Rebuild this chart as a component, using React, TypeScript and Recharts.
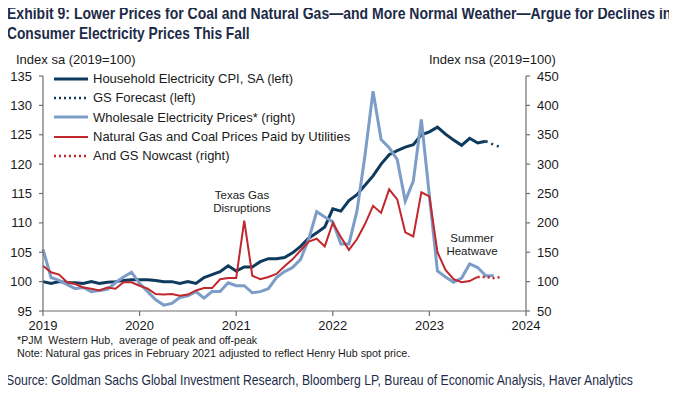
import React, { useLayoutEffect, useRef, useState } from 'react';
import { ComposedChart, Line, XAxis, YAxis } from 'recharts';

// ---------- data (monthly, starting Jan 2019) ----------
const startYear = 2019;
const yearTicks = [2019, 2020, 2021, 2022, 2023, 2024];
const leftTicks = [95, 100, 105, 110, 115, 120, 125, 130, 135];
const rightTicks = [50, 100, 150, 200, 250, 300, 350, 400, 450];

// Household Electricity CPI, SA (left) — Jan 2019 .. Aug 2023
const cpiSA = [
  100.0, 99.7, 100.0, 99.8, 99.8, 99.7, 100.0, 99.7, 99.9, 100.0, 100.2, 100.3,
  100.3, 100.3, 100.2, 100.0, 100.0, 99.7, 100.0, 99.7, 100.7, 101.2, 101.7, 102.7,
  101.8, 102.5, 102.5, 103.4, 103.9, 103.9, 104.1, 104.9, 106.0, 107.4, 108.3, 109.3,
  112.4, 112.0, 113.8, 114.8, 116.4, 118.0, 120.0, 121.6, 122.3, 122.9, 123.3, 125.0,
  125.5, 126.3, 125.1, 124.1, 123.2, 124.4, 123.6, 123.9,
];
// GS Forecast (left) — Aug 2023 .. Oct 2023
const forecastStart = 55;
const gsForecast = [123.9, 123.3, 122.8];

// Wholesale Electricity Prices* (right) — Jan 2019 .. Sep 2023
const wholesale = [
  155, 107, 102, 95, 88, 90, 83, 85, 87, 98, 108, 116,
  97, 83, 69, 60, 63, 73, 76, 83, 72, 83, 83, 98,
  93, 93, 81, 83, 88, 107, 117, 124, 138, 172, 219, 210,
  202, 164, 164, 220, 315, 424, 342, 328, 308, 237, 271, 376,
  246, 118, 108, 99, 106, 130, 124, 110, 110,
];

// Natural Gas and Coal Prices Paid by Utilities (right) — Jan 2019 .. Jul 2023
const gasCoal = [
  127, 116, 112, 99, 96, 90, 88, 85, 90, 88, 99, 99,
  93, 88, 79, 78, 79, 76, 78, 85, 89, 89, 104, 106,
  106, 204, 110, 104, 108, 113, 126, 138, 153, 168, 173, 160,
  200, 176, 154, 172, 198, 229, 217, 257, 240, 184, 177, 252,
  245, 150, 120, 104, 99, 101, 108,
];
// And GS Nowcast (right) — Jul 2023 .. Oct 2023
const nowcastStart = 54;
const gsNowcast = [108, 108, 106, 108];

const monthCount = 58;

const data = Array.from({ length: monthCount }, (_, i) => ({
  t: startYear + i / 12,
  cpi: i < cpiSA.length ? cpiSA[i] : null,
  fc: i >= forecastStart && i - forecastStart < gsForecast.length ? gsForecast[i - forecastStart] : null,
  ws: i < wholesale.length ? wholesale[i] : null,
  gc: i < gasCoal.length ? gasCoal[i] : null,
  nc: i >= nowcastStart && i - nowcastStart < gsNowcast.length ? gsNowcast[i - nowcastStart] : null,
}));

// ---------- styles ----------
const NAVY = '#0e3a5d';
const LIGHT = '#7b9dc7';
const RED = '#c1272d';
const AXIS = '#6f6f6f';
const TXT = '#1a1a1a';
const TITLE = '#1d2b48';
const ARIAL = '"Liberation Sans", Arial, sans-serif';

const legendItems = [
  { label: 'Household Electricity CPI, SA (left)', color: NAVY, width: 3, dash: undefined },
  { label: 'GS Forecast (left)', color: NAVY, width: 2.5, dash: '2 3' },
  { label: 'Wholesale Electricity Prices* (right)', color: LIGHT, width: 3, dash: undefined },
  { label: 'Natural Gas and Coal Prices Paid by Utilities', color: RED, width: 2, dash: undefined },
  { label: 'And GS Nowcast (right)', color: RED, width: 2.5, dash: '2 3' },
];

const abs = (left: number, top: number, extra: React.CSSProperties = {}): React.CSSProperties => ({
  position: 'absolute',
  left,
  top,
  whiteSpace: 'nowrap',
  ...extra,
});

// Text squeezed horizontally to a target width (emulates a condensed face)
function FitText(props: { left: number; top: number; width: number; style: React.CSSProperties; children: React.ReactNode }) {
  const ref = useRef<HTMLSpanElement>(null);
  const [k, setK] = useState(1);
  useLayoutEffect(() => {
    if (ref.current) {
      const w = ref.current.offsetWidth;
      if (w > 0) setK(props.width / w);
    }
  }, [props.width]);
  return (
    <span
      ref={ref}
      style={{
        position: 'absolute',
        left: props.left,
        top: props.top,
        display: 'inline-block',
        whiteSpace: 'nowrap',
        transformOrigin: '0 0',
        transform: `scaleX(${k})`,
        ...props.style,
      }}
    >
      {props.children}
    </span>
  );
}

const titleStyle: React.CSSProperties = { fontFamily: ARIAL, fontWeight: 700, fontSize: 17, color: TITLE, lineHeight: '20px' };
const noteStyle: React.CSSProperties = { fontFamily: ARIAL, fontSize: 10.5, color: TXT, lineHeight: '13px' };
const srcStyle: React.CSSProperties = { fontFamily: ARIAL, fontSize: 15, color: TITLE, lineHeight: '18px' };

export default function App() {
  return (
    <div style={{ position: 'relative', width: 677, height: 398, margin: -8, background: '#fff', overflow: 'hidden' }}>
      <FitText left={7} top={4} width={664} style={titleStyle}>
        Exhibit 9: Lower Prices for Coal and Natural Gas—and More Normal Weather—Argue for Declines in
      </FitText>
      <FitText left={7} top={24} width={243} style={titleStyle}>
        Consumer Electricity Prices This Fall
      </FitText>

      <div style={abs(16, 52, { fontFamily: ARIAL, fontSize: 13, color: TXT })}>Index sa (2019=100)</div>
      <div style={abs(429, 52, { fontFamily: ARIAL, fontSize: 13, color: TXT })}>Index nsa (2019=100)</div>

      <div style={{ position: 'absolute', left: 0, top: 0 }}>
        <ComposedChart
          width={677}
          height={398}
          data={data}
          margin={{ top: 76, right: 101, left: 8, bottom: 57 }}
        >
          <XAxis
            dataKey="t"
            type="number"
            domain={[2019, 2024]}
            ticks={yearTicks}
            tickFormatter={(v: number) => String(Math.round(v))}
            height={30}
            tickSize={5}
            tickMargin={5}
            axisLine={{ stroke: AXIS, strokeWidth: 1.2 }}
            tickLine={{ stroke: AXIS, strokeWidth: 1.2 }}
            tick={{ fill: TXT, fontSize: 13, fontFamily: ARIAL }}
            interval={0}
          />
          <YAxis
            yAxisId="left"
            orientation="left"
            domain={[95, 135]}
            ticks={leftTicks}
            width={35}
            tickSize={4}
            tickMargin={7}
            allowDataOverflow
            axisLine={{ stroke: AXIS, strokeWidth: 1.2 }}
            tickLine={{ stroke: AXIS, strokeWidth: 1.2 }}
            tick={{ fill: TXT, fontSize: 13, fontFamily: ARIAL }}
            interval={0}
          />
          <YAxis
            yAxisId="right"
            orientation="right"
            domain={[50, 450]}
            ticks={rightTicks}
            width={50}
            tickSize={4}
            tickMargin={7}
            allowDataOverflow
            axisLine={{ stroke: AXIS, strokeWidth: 1.2 }}
            tickLine={{ stroke: AXIS, strokeWidth: 1.2 }}
            tick={{ fill: TXT, fontSize: 13, fontFamily: ARIAL }}
            interval={0}
          />
          <Line yAxisId="left" dataKey="cpi" stroke={NAVY} strokeWidth={3} dot={false} activeDot={false} isAnimationActive={false} />
          <Line yAxisId="left" dataKey="fc" stroke={NAVY} strokeWidth={2.5} strokeDasharray="2 4" dot={false} activeDot={false} isAnimationActive={false} />
          <Line yAxisId="right" dataKey="ws" stroke={LIGHT} strokeWidth={3} dot={false} activeDot={false} isAnimationActive={false} />
          <Line yAxisId="right" dataKey="gc" stroke={RED} strokeWidth={2} dot={false} activeDot={false} isAnimationActive={false} />
          <Line yAxisId="right" dataKey="nc" stroke={RED} strokeWidth={2.5} strokeDasharray="2 3" dot={false} activeDot={false} isAnimationActive={false} />
        </ComposedChart>
      </div>

      {/* legend */}
      <div style={{ position: 'absolute', left: 54, top: 69 }}>
        {legendItems.map((it) => (
          <div key={it.label} style={{ display: 'flex', alignItems: 'center', height: 19.3 }}>
            <svg width={36} height={8} style={{ display: 'block' }}>
              <line x1={0} y1={4} x2={34} y2={4} stroke={it.color} strokeWidth={it.width} strokeDasharray={it.dash} />
            </svg>
            <span style={{ marginLeft: 3, fontFamily: ARIAL, fontSize: 13, color: TXT, whiteSpace: 'nowrap' }}>{it.label}</span>
          </div>
        ))}
      </div>

      {/* annotations */}
      <div style={abs(212, 189, { width: 60, textAlign: 'center', fontFamily: ARIAL, fontSize: 11.5, color: TXT, lineHeight: '12.5px', whiteSpace: 'normal' })}>
        Texas Gas<br />Disruptions
      </div>
      <div style={abs(442, 232, { width: 60, textAlign: 'center', fontFamily: ARIAL, fontSize: 11.5, color: TXT, lineHeight: '12.5px', whiteSpace: 'normal' })}>
        Summer<br />Heatwave
      </div>

      {/* footnotes & source */}
      <FitText left={17} top={334} width={240} style={noteStyle}>
        *PJM&nbsp; Western Hub,&nbsp; average of peak and off-peak
      </FitText>
      <FitText left={17} top={347} width={393} style={noteStyle}>
        Note: Natural gas prices in February 2021 adjusted to reflect Henry Hub spot price.
      </FitText>
      <FitText left={6} top={371} width={627} style={srcStyle}>
        Source: Goldman Sachs Global Investment Research, Bloomberg LP, Bureau of Economic Analysis, Haver Analytics
      </FitText>
    </div>
  );
}
